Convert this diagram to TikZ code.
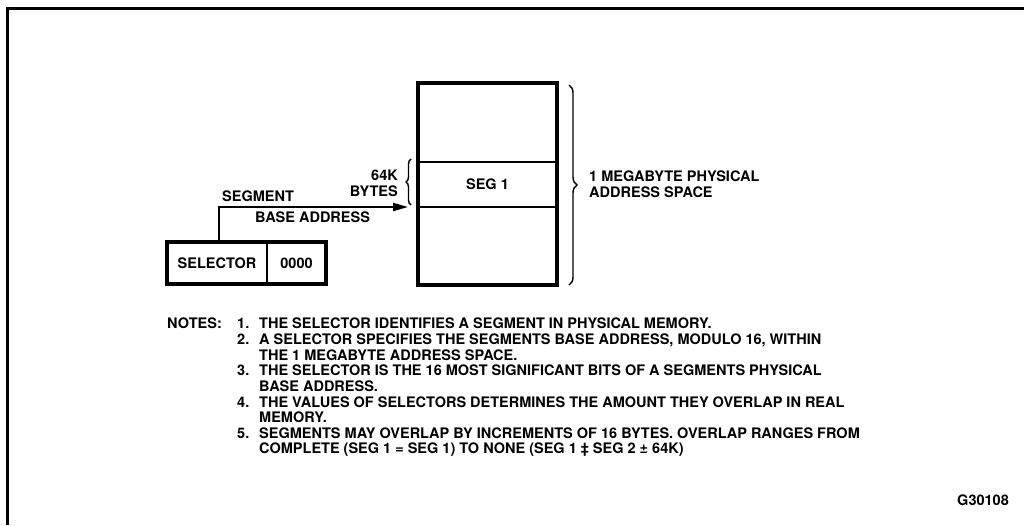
\documentclass[tikz,border=0pt]{standalone}
\usepackage{fontspec}
\setmainfont{TeX Gyre Heros}
\usetikzlibrary{decorations.pathreplacing,arrows.meta}
\begin{document}
\begin{tikzpicture}[x=1pt,y=-1pt,
  txt/.style={font=\fontsize{14.5}{15.6}\selectfont\bfseries, inner sep=0pt},
  cell/.style={txt, draw=none, inner sep=0pt},
  heavy/.style={line width=4pt},
  light/.style={line width=2.2pt},
  conn/.style={line width=2pt, -{Triangle[length=15pt,width=8pt]}},
  bracestyle/.style={decorate, line width=1.4pt},
  frame/.style={line width=3pt}]
\useasboundingbox (0,0) rectangle (1024,525);
% frame
\coordinate (fb) at (7,525);
\coordinate (fc) at (7,8);
\coordinate (fr) at (1024,8);
\draw[frame] (fb) -- (fc) -- (fr);
% memory column
\node[cell, minimum width=139pt, minimum height=79pt] (memtop) at (487.5,122.5) {};
\node[cell, minimum width=139pt, minimum height=45pt] (seg) at (487.5,184.5) {SEG 1};
\node[cell, minimum width=139pt, minimum height=78pt] (membot) at (487.5,246) {};
\draw[heavy] (memtop.north west) rectangle (membot.south east);
\draw[light] (seg.north west) -- (seg.north east);
\draw[light] (seg.south west) -- (seg.south east);
% selector
\node[cell, minimum width=100pt, minimum height=42pt] (sel) at (217,263) {SELECTOR};
\node[cell, minimum width=59pt, minimum height=42pt] (zero) at (296.5,263) {0000};
\draw[heavy] (sel.north west) rectangle (zero.south east);
\draw[light] (sel.north east) -- (sel.south east);
% arrow
\coordinate (arrowend) at (408,207);
\draw[conn] ([xshift=2pt]sel.north) |- (arrowend);
\node[txt, anchor=base west] (segtxt) at (222,201.5) {SEGMENT};
\node[txt, anchor=base west] (basetxt) at (255,222.5) {BASE ADDRESS};
% small brace
\coordinate (sb1) at (411,205);
\coordinate (sb2) at (411,159);
\draw[bracestyle, decoration={brace, amplitude=5pt}] (sb1) -- (sb2);
\node[txt, anchor=base east] (k64) at (398,180) {64K};
\node[txt, anchor=base east] (bytes) at (398,196) {BYTES};
% big brace
\coordinate (bb1) at (569,85);
\coordinate (bb2) at (569,285);
\draw[bracestyle, decoration={brace, amplitude=8pt}] (bb1) -- (bb2);
\node[txt, anchor=base west] (mb1) at (589,181) {1 MEGABYTE PHYSICAL};
\node[txt, anchor=base west] (mb2) at (589,197) {ADDRESS SPACE};
% notes
\node[txt, anchor=base west] (notes) at (167,328) {NOTES:};
\node[txt, anchor=base west] (num1) at (237,328) {1.};
\node[txt, anchor=base west] (l1) at (259,328) {THE SELECTOR IDENTIFIES A SEGMENT IN PHYSICAL MEMORY.};
\node[txt, anchor=base west] (num2) at (237,344) {2.};
\node[txt, anchor=base west] (l2) at (259,344) {A SELECTOR SPECIFIES THE SEGMENTS BASE ADDRESS, MODULO 16, WITHIN};
\node[txt, anchor=base west] (l2b) at (259,360) {THE 1 MEGABYTE ADDRESS SPACE.};
\node[txt, anchor=base west] (num3) at (237,375) {3.};
\node[txt, anchor=base west] (l3) at (259,375) {THE SELECTOR IS THE 16 MOST SIGNIFICANT BITS OF A SEGMENTS PHYSICAL};
\node[txt, anchor=base west] (l3b) at (259,391) {BASE ADDRESS.};
\node[txt, anchor=base west] (num4) at (237,407) {4.};
\node[txt, anchor=base west] (l4) at (259,407) {THE VALUES OF SELECTORS DETERMINES THE AMOUNT THEY OVERLAP IN REAL};
\node[txt, anchor=base west] (l4b) at (259,422) {MEMORY.};
\node[txt, anchor=base west] (num5) at (237,438) {5.};
\node[txt, anchor=base west] (l5) at (259,438) {SEGMENTS MAY OVERLAP BY INCREMENTS OF 16 BYTES. OVERLAP RANGES FROM};
\node[txt, anchor=base west] (l5b) at (259,453) {COMPLETE (SEG 1 = SEG 1) TO NONE (SEG 1 ‡ SEG 2 ± 64K)};
% figure id
\node[txt, anchor=base east] (fig) at (1009,505) {G30108};
\end{tikzpicture}
\end{document}
